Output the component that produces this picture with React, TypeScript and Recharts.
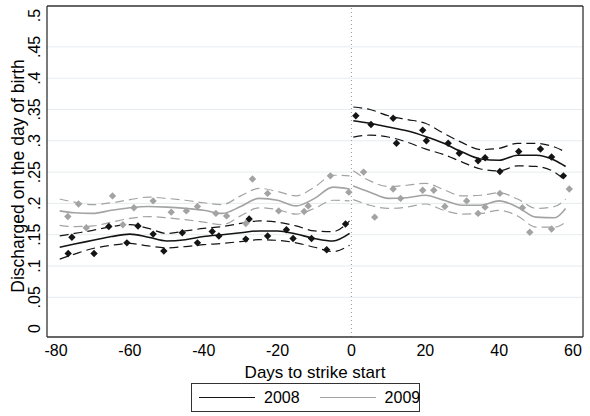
import { ComposedChart, Line, Scatter, XAxis, YAxis, ReferenceLine } from 'recharts'

const xTicks = [-80, -60, -40, -20, 0, 20, 40, 60]
const yTicks = [0, 0.05, 0.1, 0.15, 0.2, 0.25, 0.3, 0.35, 0.4, 0.45, 0.5]
const gridValues = [0.05, 0.1, 0.15, 0.2, 0.25, 0.3, 0.35, 0.4, 0.45]

// share discharged on day of birth, by day
const days08 = [-76.7, -75.7, -69.7, -65.7, -60.8, -57.8, -53.7, -50.8, -45.8, -41.7, -37.7, -35.9, -28.6, -27.7, -22.7, -17.6, -15.8, -10.8, -6.7, -1.6, 1.2, 5.3, 11.3, 12.2, 19.3, 20.3, 26.2, 29.2, 34.3, 36.2, 40.2, 45.3, 51.2, 54.2, 57.4]
const share08 = [0.12, 0.146, 0.12, 0.163, 0.137, 0.164, 0.151, 0.124, 0.153, 0.137, 0.155, 0.148, 0.143, 0.175, 0.148, 0.158, 0.144, 0.144, 0.126, 0.167, 0.34, 0.326, 0.336, 0.296, 0.317, 0.3, 0.296, 0.28, 0.268, 0.273, 0.251, 0.283, 0.287, 0.274, 0.244]
const days09 = [-76.8, -73.9, -71.8, -64.7, -61.9, -58.9, -53.7, -48.8, -44.7, -41.7, -36.7, -33.8, -28.6, -26.8, -22.7, -19.7, -12.8, -11.7, -5.7, -0.7, 3.3, 6.3, 11.3, 13.3, 19.3, 22.3, 25.3, 31.2, 34.3, 36.2, 40.2, 46.3, 48.3, 54.2, 59]
const share09 = [0.179, 0.199, 0.161, 0.212, 0.166, 0.193, 0.204, 0.186, 0.188, 0.195, 0.184, 0.18, 0.168, 0.239, 0.216, 0.188, 0.187, 0.196, 0.244, 0.218, 0.25, 0.178, 0.223, 0.208, 0.221, 0.221, 0.195, 0.204, 0.184, 0.194, 0.216, 0.193, 0.154, 0.159, 0.223]

// smoothed fits with confidence bands, before and after strike start
const fitDaysPre = [-79, -75, -70, -65, -60, -55, -50, -45, -40, -35, -30, -25, -20, -15, -10, -5, -0.5]
const fit08Pre = [0.13, 0.135, 0.141, 0.147, 0.151, 0.146, 0.14, 0.142, 0.147, 0.15, 0.153, 0.156, 0.156, 0.151, 0.144, 0.14, 0.152]
const hi08Pre = [0.148, 0.152, 0.157, 0.163, 0.166, 0.16, 0.152, 0.156, 0.16, 0.163, 0.168, 0.172, 0.17, 0.164, 0.156, 0.155, 0.172]
const lo08Pre = [0.111, 0.119, 0.128, 0.133, 0.136, 0.132, 0.129, 0.131, 0.134, 0.136, 0.139, 0.142, 0.141, 0.137, 0.13, 0.123, 0.133]
const fit09Pre = [0.188, 0.185, 0.184, 0.189, 0.193, 0.195, 0.194, 0.192, 0.189, 0.184, 0.195, 0.208, 0.205, 0.196, 0.208, 0.226, 0.223]
const hi09Pre = [0.207, 0.202, 0.198, 0.201, 0.206, 0.21, 0.208, 0.205, 0.201, 0.198, 0.212, 0.224, 0.219, 0.212, 0.226, 0.245, 0.244]
const lo09Pre = [0.165, 0.163, 0.164, 0.17, 0.176, 0.179, 0.177, 0.174, 0.17, 0.166, 0.18, 0.193, 0.19, 0.183, 0.192, 0.205, 0.204]

const fitDaysPost = [0.5, 5, 10, 15, 20, 25, 30, 35, 40, 45, 50, 55, 58]
const fit08Post = [0.332, 0.328, 0.322, 0.316, 0.307, 0.296, 0.282, 0.271, 0.269, 0.277, 0.277, 0.269, 0.259]
const hi08Post = [0.354, 0.35, 0.34, 0.334, 0.328, 0.312, 0.297, 0.286, 0.288, 0.296, 0.296, 0.29, 0.282]
const lo08Post = [0.306, 0.309, 0.306, 0.298, 0.287, 0.278, 0.266, 0.255, 0.252, 0.26, 0.259, 0.25, 0.236]
const fit09Post = [0.228, 0.218, 0.208, 0.209, 0.213, 0.205, 0.197, 0.197, 0.204, 0.194, 0.178, 0.177, 0.192]
const hi09Post = [0.252, 0.236, 0.227, 0.229, 0.232, 0.222, 0.212, 0.213, 0.217, 0.207, 0.192, 0.195, 0.207]
const lo09Post = [0.206, 0.197, 0.192, 0.194, 0.199, 0.189, 0.183, 0.184, 0.189, 0.18, 0.162, 0.162, 0.17]

const BLACK = '#141414'
const GRAY = '#a3a3a3'
const FONT = '"Liberation Sans", Arial, sans-serif'
const xDomain = [-82.44, 62.71]
const yDomain = [-0.0134, 0.5153]

const toPts = (xs: number[], ys: number[]) => xs.map((x, i) => ({ x, y: ys[i] }))

const curves = [
  { key: 'f08a', pts: toPts(fitDaysPre, fit08Pre), color: BLACK, dash: false },
  { key: 'h08a', pts: toPts(fitDaysPre, hi08Pre), color: BLACK, dash: true },
  { key: 'l08a', pts: toPts(fitDaysPre, lo08Pre), color: BLACK, dash: true },
  { key: 'f08b', pts: toPts(fitDaysPost, fit08Post), color: BLACK, dash: false },
  { key: 'h08b', pts: toPts(fitDaysPost, hi08Post), color: BLACK, dash: true },
  { key: 'l08b', pts: toPts(fitDaysPost, lo08Post), color: BLACK, dash: true },
  { key: 'f09a', pts: toPts(fitDaysPre, fit09Pre), color: GRAY, dash: false },
  { key: 'h09a', pts: toPts(fitDaysPre, hi09Pre), color: GRAY, dash: true },
  { key: 'l09a', pts: toPts(fitDaysPre, lo09Pre), color: GRAY, dash: true },
  { key: 'f09b', pts: toPts(fitDaysPost, fit09Post), color: GRAY, dash: false },
  { key: 'h09b', pts: toPts(fitDaysPost, hi09Post), color: GRAY, dash: true },
  { key: 'l09b', pts: toPts(fitDaysPost, lo09Post), color: GRAY, dash: true },
]

const fmtY = (v: number) => (v === 0 ? '0' : String(v).replace(/^0/, ''))

const Diamond = (color: string) => (p: any) => (
  <path d={`M${p.cx},${p.cy - 3.7}L${p.cx + 3.7},${p.cy}L${p.cx},${p.cy + 3.7}L${p.cx - 3.7},${p.cy}Z`} fill={color} />
)

const YTick = (p: any) => (
  <text x={35} y={p.y} transform={`rotate(-90 35 ${p.y})`} textAnchor="middle" dominantBaseline="central"
    fontSize={16} fontFamily={FONT} fill="#000">
    {fmtY(p.payload.value)}
  </text>
)

const YTitle = () => (
  <text x={18} y={176} transform="rotate(-90 18 176)" textAnchor="middle" dominantBaseline="central"
    fontSize={17.5} fontFamily={FONT} fill="#000">
    Discharged on the day of birth
  </text>
)

const legendItems = [
  { label: '2008', color: BLACK },
  { label: '2009', color: GRAY },
]

export default function App() {
  return (
    <div style={{ position: 'absolute', left: 0, top: 0, width: 590, height: 416, background: '#fff' }}>
      <ComposedChart width={590} height={416} margin={{ top: 6, right: 7, bottom: 0, left: 0 }}>
        <XAxis type="number" dataKey="x" domain={xDomain} ticks={xTicks} allowDataOverflow
          axisLine={false} tickLine={false} tickSize={0} tickMargin={8} height={79}
          tick={{ fontSize: 16, fontFamily: FONT, fill: '#000' }}
          label={{ value: 'Days to strike start', position: 'insideTop', offset: 29, fontSize: 17, fontFamily: FONT, fill: '#000' }} />
        <YAxis type="number" dataKey="y" domain={yDomain} ticks={yTicks} allowDataOverflow
          axisLine={false} tickLine={false} width={47} tick={YTick} label={<YTitle />} />
        {gridValues.map(v => (
          <ReferenceLine key={v} y={v} stroke="#e6ecef" strokeWidth={1} />
        ))}
        <ReferenceLine x={0} stroke="#9a9a9a" strokeDasharray="1 3" />
        {curves.map(c => (
          <Line key={c.key} data={c.pts} dataKey="y" type="monotone" stroke={c.color}
            strokeWidth={c.dash ? 1.2 : 1.6} strokeDasharray={c.dash ? '9 5' : undefined}
            dot={false} activeDot={false} isAnimationActive={false} />
        ))}
        <Scatter data={toPts(days09, share09)} dataKey="y" shape={Diamond(GRAY)} isAnimationActive={false} />
        <Scatter data={toPts(days08, share08)} dataKey="y" shape={Diamond(BLACK)} isAnimationActive={false} />
        <ReferenceLine x={xDomain[0]} stroke="#333" strokeWidth={1.3} />
        <ReferenceLine x={xDomain[1]} stroke="#333" strokeWidth={1.3} />
        <ReferenceLine y={yDomain[0]} stroke="#333" strokeWidth={1.3} />
        <ReferenceLine y={yDomain[1]} stroke="#333" strokeWidth={1.3} />
      </ComposedChart>
      <div style={{
        position: 'absolute', left: 191, top: 383, width: 229, height: 29, boxSizing: 'border-box',
        border: '1px solid #333', display: 'flex', alignItems: 'center', paddingLeft: 7,
        fontFamily: FONT, fontSize: 16, background: '#fff',
      }}>
        {legendItems.map((it, i) => (
          <div key={it.label} style={{ display: 'flex', alignItems: 'center', marginLeft: i ? 20 : 0 }}>
            <div style={{ width: 56, height: 0, borderTop: `1.5px solid ${it.color}` }} />
            <span style={{ marginLeft: 9 }}>{it.label}</span>
          </div>
        ))}
      </div>
    </div>
  )
}
